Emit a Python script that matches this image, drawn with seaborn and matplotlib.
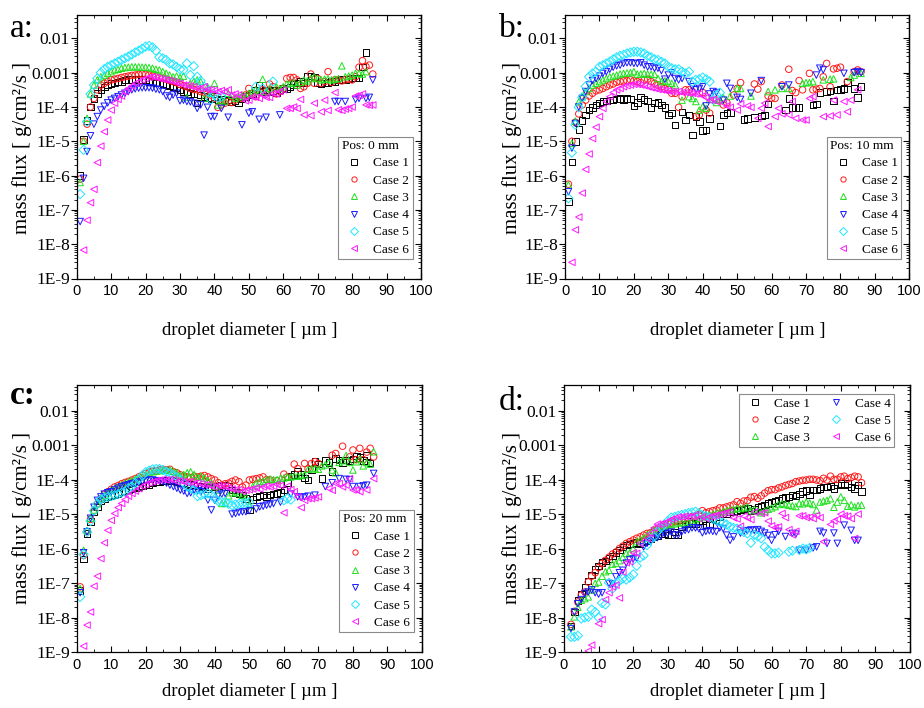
import numpy as np
import pandas as pd
import matplotlib
matplotlib.use("Agg")
import matplotlib.pyplot as plt
from matplotlib.lines import Line2D
from matplotlib.ticker import (LogLocator, FixedLocator, MultipleLocator,
                               NullFormatter, FixedFormatter)
import seaborn as sns

N = None
cases = ["Case 1", "Case 2", "Case 3", "Case 4", "Case 5", "Case 6"]
colors = ["#000000", "#ff1a1a", "#1ee01e", "#1a1aff", "#1ee6ff", "#ff1aff"]
markers = ["s", "o", "^", "v", "D", "<"]
pos_titles = ["Pos: 0 mm", "Pos: 10 mm", "Pos: 20 mm", None]
letters = ["a:", "b:", "c:", "d:"]
ytick_labels = ["1E-9", "1E-8", "1E-7", "1E-6", "1E-5", "1E-4", "0.001", "0.01"]
xtick_labels = ["0", "10", "20", "30", "40", "50", "60", "70", "80", "90", "100"]

# log10(mass flux [g/cm^2/s]) at droplet diameter 1, 2, 3, ... um  (None = no point)
# ---- panel a: Pos 0 mm
a_case1 = [-6.0, -4.95, -4.4, -4.0, -3.75, -3.6, -3.5, -3.42, -3.36, -3.32,
           -3.3, -3.27, -3.25, -3.22, -3.2, -3.2, -3.18, -3.2, -3.2, -3.22,
           -3.25, -3.27, -3.3, -3.3, -3.32, -3.35, -3.38, -3.42, -3.45, -3.5,
           -3.55, -3.56, -3.6, -3.62, -3.88, -3.65, -3.7, -3.72, -3.75, -3.7,
           -3.8, -3.78, -3.82, -3.8, -3.85, -3.82, -3.88, -3.75, -3.7, -3.65,
           -3.6, -3.5, -3.38, -3.55, -3.5, -3.55, -3.52, -3.58, -3.5, -3.45,
           -3.48, -3.42, -3.35, -3.3, -3.25, -3.3, -3.09, -3.1, -3.12, -3.3,
           -3.31, -3.3, -3.28, -3.26, -3.25, -3.22, -3.2, -3.2, -3.18, -3.16,
           -3.15, -3.15, -2.83, -2.41]
a_case2 = [-6.1, -5.0, -4.5, -4.0, -3.75, -3.5, -3.36, -3.31, -3.26, -3.21,
           -3.19, -3.17, -3.14, -3.12, -3.1, -3.08, -3.07, -3.05, -3.04, -3.05,
           -3.07, -3.1, -3.12, -3.14, -3.17, -3.19, -3.23, -3.26, -3.29, -3.34,
           -3.38, -3.41, -3.46, -3.49, -3.5, -3.55, -3.58, -3.62, -3.65, -3.75,
           -4.01, -3.94, -3.89, -3.84, -3.87, -3.8, N, -3.75, -3.65, -3.46,
           -3.6, -3.7, -3.55, -3.5, -3.55, -3.33, -3.41, -3.62, -3.55, -3.46,
           -3.17, -3.14, -3.14, -3.21, -3.46, -3.41, -3.31, -3.04, -3.31, -3.17,
           -3.31, -3.26, -2.97, -3.28, -3.21, -3.21, -3.24, -3.21, -3.19, -3.21,
           -3.12, -2.84, -2.65, -2.82, -2.78, -3.04]
a_case3 = [-6.2, -5.0, -4.33, -3.62, -3.36, -3.21, -3.12, -3.07, -3.02, -2.97,
           -2.92, -2.9, -2.87, -2.85, -2.84, -2.83, -2.83, -2.83, -2.84, -2.84,
           -2.85, -2.87, -2.9, -2.92, -2.97, -3.02, -3.07, -3.12, -3.1, -3.14,
           -3.1, -3.72, -3.31, -3.26, -3.21, -3.26, -3.75, -3.41, -3.6, -3.31,
           -3.94, -3.8, -3.84, -3.6, -3.65, -3.75, -3.7, -3.65, -3.68, -3.6,
           -3.55, -3.5, -3.55, -3.19, -3.55, -3.46, N, -3.41, -3.46, -3.41,
           -3.33, -3.31, -3.29, -3.36, -3.28, -3.21, -3.24, -3.17, -3.12, -3.17,
           -3.21, -3.19, -3.18, -3.21, -3.19, -3.17, -2.8, -3.12, -3.1, -3.07,
           -3.02, -3.02, -3.04, -2.97]
a_case4 = [-7.34, -6.08, -5.3, -4.84, -4.5, -4.28, -4.09, -3.98, -3.88, -3.8,
           -3.75, -3.7, -3.65, -3.6, -3.55, -3.5, -3.47, -3.45, -3.44, -3.44,
           -3.44, -3.45, -3.48, -3.5, -3.55, -3.68, -3.72, -3.65, -3.6, -3.82,
           -3.8, -3.84, -3.85, -3.89, -4.04, -3.94, -4.82, -4.01, -4.28, -4.28,
           N, -4.04, N, -4.3, N, N, N, -4.52, N, -4.18,
           -4.14, N, -4.36, N, -4.3, N, N, N, -4.23, N,
           N, N, N, N, N, N, N, N, N, N,
           N, N, N, N, -3.84, -3.84, N, -3.84, N, N,
           -3.78, -3.75, N, -3.75, -3.72, -3.21]
a_case5 = [-6.54, -5.25, -4.43, -3.62, -3.36, -3.17, -3.0, -2.9, -2.83, -2.78,
           -2.73, -2.68, -2.63, -2.58, -2.53, -2.47, -2.41, -2.36, -2.3, -2.24,
           -2.22, -2.26, -2.36, -2.55, -2.58, -2.63, -2.73, -2.76, -2.83, -2.9,
           -2.92, -2.73, -3.07, -2.81, -3.12, -3.24, -3.41, -3.55, -3.78, -3.65,
           -3.72, -3.7, N, N, N, N, N, N, N, N,
           N, -3.41, N, -3.46, N, N, -3.26]
a_case6 = [N, -8.17, -7.3, -6.79, -6.4, -5.62, -5.14, -4.72, -4.38, -4.09,
           -3.89, -3.78, -3.68, -3.55, -3.46, -3.39, -3.31, -3.26, -3.21, -3.17,
           -3.14, -3.12, -3.14, -3.17, -3.19, -3.21, -3.23, -3.26, -3.29, -3.31,
           -3.36, -3.36, -3.39, -3.41, -3.46, -3.46, -3.41, -3.5, -3.5, -3.52,
           -3.55, -3.52, -3.55, -3.5, -3.65, -3.62, -3.65, -3.7, -3.82, -3.8,
           -3.7, -3.72, -3.75, -3.65, -3.72, -3.72, -3.6, -3.62, -3.55, -3.5,
           -4.04, -4.04, -4.0, -4.04, -3.78, -4.23, N, -4.25, -3.89, N,
           -4.14, -3.8, -4.1, N, -3.58, -4.08, -4.1, -4.06, -4.04, -4.0,
           -3.68, -3.66, -3.62, -3.94, -3.95, -3.94]
# ---- panel b: Pos 10 mm
b_case1 = [-6.76, -5.61, -5.01, -4.65, -4.4, -4.23, -4.09, -4.02, -3.94, -3.89,
           -3.84, -3.82, -3.8, -3.8, -3.77, -3.75, -3.78, -3.75, -3.77, -3.97,
           -3.87, -3.73, -3.78, -3.83, -4.01, -3.89, -3.87, -3.94, -4.01, -4.23,
           -4.18, -4.52, N, -4.14, -4.38, -4.23, -4.82, -4.28, -4.43, -4.69,
           -4.67, -4.33, N, N, -4.55, -4.23, -4.18, -4.16, N, N,
           N, -4.36, -4.34, N, -4.3, N, -4.26, -4.23, -3.91, N,
           N, N, N, -4.09, -3.75, -4.01, -4.01, -4.02, N, N,
           N, -3.94, -3.91, -3.58, N, -3.55, -3.53, -3.82, -3.5, -3.49,
           -3.46, -3.29, N, -3.46, -3.72, -3.41]
b_case2 = [-6.25, -5.0, -4.45, -4.2, -3.94, -3.8, -3.68, -3.6, -3.53, -3.5,
           -3.46, -3.41, -3.36, -3.33, -3.28, -3.26, -3.24, -3.23, -3.21, -3.24,
           -3.26, -3.29, -3.21, -3.19, -3.26, -3.31, -3.36, -3.41, -3.46, -3.49,
           -3.6, -3.6, -4.01, -3.7, -3.5, -3.5, -3.55, -4.28, -4.23, -3.58,
           -4.09, -4.18, N, -3.8, N, -3.94, -3.87, N, -3.65, -3.46,
           -3.29, N, N, N, -3.33, -3.48, -3.26, N, -3.68, -3.74,
           -3.75, N, -3.36, N, -2.9, -3.52, -3.58, -3.23, -3.5, N,
           -3.02, -3.5, -3.48, -3.46, -3.12, -2.73, -3.41, -2.89, -2.87, -2.84,
           N, -3.26, N, -2.97, -2.92, -2.97]
b_case3 = [-6.27, -5.06, -4.41, -3.85, -3.7, -3.55, -3.46, -3.36, -3.31, -3.26,
           -3.21, -3.17, -3.12, -3.1, -3.07, -3.04, -3.02, -3.01, -3.0, -2.97,
           -3.04, -3.04, -3.02, -3.04, -3.05, -3.05, -3.17, -3.26, -3.24, -3.26,
           -3.31, -3.36, N, -3.8, N, -3.7, -3.75, -3.84, -4.09, -3.99,
           -4.04, -3.78, N, -3.87, -3.8, -3.73, N, -3.68, N, -3.46,
           -3.46, N, N, -3.68, N, N, N, N, -3.55, N,
           -3.5, N, -3.46, N, -3.46, N, N, N, -3.31, -3.29,
           -3.29, -3.26, N, N, -3.21, N, -3.19, -3.18, N, N,
           N, N, -3.14, -3.07, N, -3.02]
b_case4 = [-6.47, -5.2, -4.48, -4.0, -3.75, -3.55, -3.36, -3.23, -3.17, -3.1,
           -3.02, -2.97, -2.9, -2.84, -2.8, -2.78, -2.73, -2.71, -2.71, -2.73,
           -2.73, -2.71, -2.78, -2.83, -2.83, -2.87, -2.87, -2.94, -3.19, -3.07,
           -3.0, -3.17, -3.21, -3.17, N, -3.26, -3.41, -3.5, -3.46, -3.41,
           -3.97, -3.62, -3.55, -3.58, N, -3.8, -3.31, -3.46, N, -3.72,
           -3.78, N, N, -3.6, N, N, -3.23, N, N, N,
           N, N, -3.41, N, -3.36, N, N, N, N, N,
           N, N, -3.07, -2.87, -2.92, N, N, N, N, N,
           -3.02, N, N, -3.0, -2.97, -3.0]
b_case5 = [-6.66, -5.33, -4.52, -4.01, -3.72, -3.4, -3.12, -3.02, -2.97, -2.83,
           -2.78, -2.73, -2.68, -2.61, -2.55, -2.51, -2.48, -2.44, -2.41, -2.39,
           -2.39, -2.41, -2.44, -2.51, -2.55, -2.61, -2.63, -2.68, -2.73, -2.83,
           -2.87, -2.9, -2.9, -2.97, -3.02, -2.97, -3.26, -3.21, -3.19, -3.14,
           -3.19, -3.26, -3.78, -3.65, -3.58]
b_case6 = [N, -8.53, -7.58, -7.21, -6.51, -5.82, -5.37, -4.92, -4.59, -4.28,
           -4.04, -3.84, -3.7, -3.58, -3.5, -3.46, -3.41, -3.38, -3.36, -3.34,
           -3.34, -3.36, -3.38, -3.41, -3.44, -3.46, -3.49, -3.5, -3.52, -3.53,
           -3.55, -3.55, -3.55, -3.58, -3.58, -3.6, -3.6, -3.62, -3.62, -3.68,
           -3.72, -3.8, -3.78, -3.84, N, -3.89, -3.97, -4.01, N, -4.09,
           -3.91, N, -3.97, -4.01, N, -4.33, -4.04, -3.89, -4.57, N,
           -4.28, -4.04, -4.2, N, -4.23, -3.84, -4.33, N, -4.38, -4.38,
           -3.75, -3.7, N, N, -4.28, N, -4.26, -3.8, -4.23, N,
           -3.84, -4.14, -3.8, N, -3.5]
# ---- panel c: Pos 20 mm
c_case1 = [-7.21, -6.3, -5.56, -5.22, -4.93, -4.79, -4.62, -4.55, -4.5, -4.48,
           -4.45, -4.4, -4.35, -4.33, -4.3, -4.27, -4.24, -4.21, -4.18, -4.16,
           -4.16, -4.1, -4.06, -4.05, -4.03, -4.02, -4.01, -4.02, -4.05, -4.08,
           -4.1, -4.12, -4.14, -4.16, -4.18, -4.2, -4.22, -4.25, -4.22, -4.2,
           -4.18, -4.16, -4.16, -4.2, -4.3, -4.38, -4.4, -4.45, -4.55, -4.88,
           -4.58, -4.5, -4.48, -4.45, -4.5, -4.45, -4.42, -4.4, -4.38, -4.3,
           -4.1, -3.9, -3.85, -3.77, -3.85, -3.95, -4.01, -3.7, -3.48, -3.55,
           -3.97, -3.45, -3.5, -3.77, -3.38, -3.43, -3.5, -3.43, -3.45, -3.4,
           -3.32, -3.35, -3.45, -3.3, -3.51]
c_case2 = [-7.11, -6.2, -5.5, -5.15, -4.9, -4.7, -4.55, -4.42, -4.35, -4.28,
           -4.21, -4.17, -4.12, -4.08, -4.05, -4.01, -3.97, -3.92, -3.87, -3.82,
           -3.78, -3.75, -3.74, -3.72, -3.7, -3.72, -3.7, -3.77, -3.8, -3.86,
           -3.9, -3.92, -3.94, -3.9, -3.92, -3.9, -3.88, -3.92, -3.97, -4.01,
           -4.09, -4.16, -4.12, -4.1, -4.05, -4.01, -4.06, -4.21, -4.16, -4.01,
           -3.99, -3.97, -3.95, -3.92, -4.0, -4.01, N, -4.03, N, -3.84,
           -3.92, N, -3.55, -3.68, N, -3.53, -3.68, -3.53, -3.48, -3.53,
           N, N, N, -3.29, -3.24, N, -3.03, N, -3.34, -3.14,
           -3.42, -3.09, -3.42, -3.2, -3.09, -3.34]
c_case3 = [-7.16, -6.05, -5.47, -5.12, -4.88, -4.7, -4.55, -4.45, -4.38, -4.3,
           -4.25, -4.2, -4.15, -4.1, -4.06, -4.02, -3.98, -3.94, -3.9, -3.85,
           -3.81, -3.77, -3.75, -3.74, -3.72, -3.72, -3.71, -3.76, -3.8, -3.88,
           -3.85, -3.8, -3.77, -3.85, -3.92, -3.9, -3.95, -4.02, -4.1, -4.2,
           -4.3, -4.69, -4.69, -4.47, -4.38, -4.35, -4.4, -4.45, -4.5, -4.74,
           -4.2, -4.1, -4.06, -4.05, -4.0, -3.98, -4.0, -4.0, -3.96, -3.95,
           -3.92, -3.92, -3.9, -3.9, -3.88, -3.86, -3.7, -3.68, -3.68, -3.7,
           -3.6, -3.57, -3.5, -3.72, -3.8, -3.5, -3.45, -3.3, -3.5, -3.72,
           -3.48, -3.4, -3.6, -3.5, -3.55, -3.19]
c_case4 = [-7.28, -6.12, -5.51, -5.12, -4.8, -4.6, -4.5, -4.42, -4.38, -4.35,
           -4.3, -4.25, -4.21, -4.18, -4.15, -4.12, -4.1, -4.07, -4.05, -4.03,
           -4.01, -4.01, -4.03, -4.05, -4.05, -4.1, -4.16, -4.2, -4.25, -4.3,
           -4.33, -4.4, -4.38, -4.3, -4.32, -4.35, -4.3, -4.59, -4.88, -4.6,
           -4.45, -4.42, -4.4, N, -5.0, -4.98, -4.95, -4.93, -4.93, -4.9,
           N, -4.85, -4.79, -4.77, -4.74, -4.72, -4.69, N, -4.65, N,
           N, -4.42, N, -4.5, -4.52, -4.5, -4.48, N, -4.45, N,
           N, -4.2, N, -4.09, N, -3.97, N, -3.99, -4.0, -4.2,
           N, -4.2, -4.18, -4.16, N, -3.82]
c_case5 = [-7.4, -6.17, -5.52, -5.2, -4.9, -4.7, -4.57, -4.53, -4.5, -4.48,
           -4.45, -4.42, -4.38, -4.35, -4.25, -4.2, -4.1, -3.98, -3.88, -3.78,
           -3.74, -3.7, -3.69, -3.69, -3.72, -3.77, -3.82, -3.87, -3.93, -4.0,
           -4.1, -4.2, -4.25, -4.3, -4.48, -4.45, -4.42, -4.4, -4.45, -4.55,
           -4.62, -4.64, -4.65, -4.7, -4.74, -4.72, -4.7, -4.69, -4.68, -4.66,
           N, N, N, N, N, N, N, N, N, -4.6,
           -4.55, -4.58]
c_case6 = [N, -8.83, -8.22, -7.84, -7.09, -6.8, -6.29, -5.83, -5.47, -5.18,
           -4.98, -4.81, -4.69, -4.58, -4.48, -4.4, -4.33, -4.26, -4.19, -4.14,
           -4.09, -4.06, -4.03, -4.01, -3.99, -4.01, -3.99, -4.01, -4.06, -4.03,
           -4.06, -4.09, -4.06, -4.11, -4.09, -4.12, -4.15, -4.15, -4.19, -4.21,
           -4.17, -4.19, -4.19, -4.24, -4.27, -4.29, -4.29, -4.34, -4.31, -4.29,
           -4.27, -4.24, -4.27, -4.21, -4.19, -4.21, -4.19, -4.14, -4.17, -4.96,
           -4.19, -4.29, -4.35, -4.5, -4.81, -4.6, -4.55, -4.55, -4.53, -4.5,
           N, N, -4.26, -4.31, -4.11, -4.11, -4.21, -4.16, -3.97, -4.3,
           -4.3, -4.35, N, -4.3, N, -3.97]
# ---- panel d
d_case1 = [N, -8.25, -7.84, -7.5, -7.32, -7.11, -6.94, -6.77, -6.61, -6.51,
           -6.41, -6.36, -6.29, -6.22, -6.12, -6.04, -5.95, -5.9, -5.87, -5.85,
           -5.83, -5.85, -5.8, -5.77, -5.7, -5.67, -5.62, -5.58, -5.56, -5.61,
           -5.59, -5.52, -5.61, -5.36, -5.29, -5.22, -5.27, -5.29, -5.2, -5.18,
           -5.32, -5.28, -5.13, -5.16, -5.08, -5.0, -4.98, -4.94, -4.92, -4.89,
           -4.88, -4.85, -4.82, -4.91, -4.86, -4.79, -4.76, -4.74, -4.69, -4.66,
           -4.62, -4.59, -4.55, -4.52, -4.5, -4.45, -4.48, -4.42, -4.35, -4.32,
           -4.45, -4.3, -4.3, -4.25, -4.22, -4.22, -4.18, -4.25, -4.15, -4.11,
           -4.15, -4.11, -4.21, -4.26, -4.16, -4.35]
d_case2 = [N, -8.2, -7.82, -7.55, -7.35, -7.26, -6.97, -6.8, -6.7, -6.55,
           -6.43, -6.34, -6.25, -6.16, -6.1, -6.0, -5.93, -5.85, -5.8, -5.75,
           -5.7, -5.66, -5.61, -5.56, -5.54, -5.48, -5.44, -5.38, -5.34, -5.28,
           -5.26, -5.22, -5.21, -5.18, -5.14, -5.11, -5.07, -5.05, -5.01, -4.9,
           -4.96, -4.93, -4.9, -4.88, -4.82, -4.82, -4.79, -4.76, -4.73, -4.64,
           -4.69, -4.62, -4.61, -4.51, -4.49, -4.54, -4.47, -4.39, -4.32, -4.29,
           -4.29, -4.24, -4.21, -4.17, -4.14, -4.11, -4.06, -4.04, -4.02, -4.01,
           -3.99, -3.99, -4.01, -4.03, -3.96, -4.01, -3.9, -3.99, -3.99, -3.92,
           -3.9, -3.97, -3.94, -3.9, -3.92, -4.09]
d_case3 = [N, -8.27, -7.98, -7.7, -7.5, -7.45, -7.4, -7.2, -7.01, -6.97,
           -6.8, -6.67, -6.63, -6.45, -6.43, -6.35, -6.25, -6.14, -6.12, -6.0,
           -5.8, -5.75, -5.7, -5.6, -5.55, -5.47, -5.45, -5.37, -5.35, -5.32,
           -5.3, -5.28, -5.25, -5.25, -5.27, -5.24, -5.2, -5.16, -5.12, -5.1,
           -5.07, -5.03, -5.0, -4.98, -4.96, -4.93, -4.9, -4.88, -4.86, -4.83,
           -4.84, -4.82, -4.79, -4.9, -4.86, -4.91, -4.96, -4.91, -4.86, -4.82,
           -4.78, -4.72, -4.69, -4.72, -4.74, -4.76, -4.78, -4.69, -4.7, -4.65,
           -4.68, -4.72, -4.88, -4.65, -4.62, -4.6, -4.55, -4.8, -4.65, -4.5,
           -4.6, -4.77, -4.73, -4.79, -4.75, -4.74]
d_case4 = [N, -8.32, -7.84, -7.6, -7.48, -7.3, -7.26, -7.2, -7.28, -7.32,
           -7.28, N, -7.01, -7.03, -6.82, -6.7, -6.63, -6.42, -6.33, -6.3,
           -6.28, N, -5.95, -5.85, -5.8, -5.72, -5.68, -5.63, -5.56, -5.56,
           -5.52, -5.61, -5.61, -5.52, -5.47, -5.45, -5.4, -5.4, -5.43, -5.54,
           -5.5, -5.48, -5.5, -5.51, -5.4, -5.42, -5.61, -5.76, -5.66, N,
           -5.55, -5.5, -5.48, -5.46, -5.47, -5.45, -5.5, -5.55, -5.62, -5.76,
           -5.6, -5.5, N, -5.65, N, -5.56, -5.58, -6.05, N, -6.05,
           N, -5.98, -5.95, -5.5, -5.55, -5.85, N, -5.55, -5.85, N,
           -5.32, N, -5.47, -5.76, -5.76]
d_case5 = [N, -8.56, -8.56, -8.53, -8.03, -8.0, -7.98, -7.77, -7.84, -8.0,
           -7.58, -7.62, -6.99, -7.16, -7.01, -6.94, -6.87, -6.9, -6.84, -6.75,
           -6.5, -6.26, -6.2, -5.9, -5.75, -5.66, -5.5, -5.4, -5.3, -5.2,
           -5.1, -5.08, -5.05, -5.02, -5.0, -4.97, -4.95, -4.93, -4.97, -5.03,
           -5.06, -5.1, -5.14, -5.18, -5.22, -5.25, -5.3, -5.37, -5.4, -5.42,
           -5.45, -5.52, -5.56, -5.83, -5.6, -5.65, -5.7, -5.95, -6.05, -6.14,
           -6.14, -6.12, N, N, -6.09, -6.06, N, -6.04, -6.0, -6.02,
           -5.98]
d_case6 = [N, N, N, N, N, N, -8.97, -8.8, N, -8.18,
           -8.06, -7.48, -7.28, -7.11, -7.06, -7.43, -6.68, -6.41, -6.38, -6.12,
           -6.14, -5.85, N, -5.71, -5.56, -5.4, -5.29, -5.29, -5.25, -5.22,
           -5.15, -5.12, -5.08, -5.08, -5.06, -5.08, -5.06, -5.03, -5.13, -5.08,
           -5.13, -5.08, -5.06, -5.03, -5.01, -4.98, -4.96, -4.94, -5.11, -5.14,
           -5.35, -5.06, -5.11, -5.16, -4.94, N, -4.98, -4.96, -5.2, -5.34,
           -5.39, -5.37, -4.98, -5.1, -5.45, -5.6, -5.5, -5.05, -5.05, -5.1,
           -5.09, -5.13, -5.04, -5.1, -5.8, N, -5.3, -5.2, -5.15, -5.0,
           -5.05, -5.06, -5.13, -5.71, -5.0]

panels = [
    [a_case1, a_case2, a_case3, a_case4, a_case5, a_case6],
    [b_case1, b_case2, b_case3, b_case4, b_case5, b_case6],
    [c_case1, c_case2, c_case3, c_case4, c_case5, c_case6],
    [d_case1, d_case2, d_case3, d_case4, d_case5, d_case6],
]

SERIF = "Liberation Serif"
SANS = "Liberation Sans"
W, H = 924, 708

fig = plt.figure(figsize=(W / 100, H / 100), dpi=100)

# axes boxes in pixels: left, top, right, bottom
boxes = [(76.7, 14.7, 421.0, 278.5), (565.0, 14.7, 909.3, 278.5),
         (76.7, 385.0, 422.0, 652.0), (564.0, 385.0, 910.0, 652.0)]
ytops = [10 ** -1.31, 10 ** -1.31, 10 ** -1.254, 10 ** -1.254]
xlabel_pos = [(250, 331), (738, 331), (250, 692), (738, 692)]
ylabel_pos = [(22, 148), (512, 148), (22, 518), (512, 518)]
letter_pos = [(10, 37), (499, 37), (10, 404), (499, 410)]


def make_frame(series):
    rows = []
    for case, vals in zip(cases, series):
        for i, v in enumerate(vals):
            if v is not None:
                rows.append((i + 1, 10.0 ** v, case))
    return pd.DataFrame(rows, columns=["diameter", "flux", "case"])


palette = dict(zip(cases, colors))
marker_map = dict(zip(cases, markers))
major_y = 10.0 ** np.arange(-9, -1)

for k, (series, box) in enumerate(zip(panels, boxes)):
    l, t, r, b = box
    ax = fig.add_axes([l / W, 1 - b / H, (r - l) / W, (b - t) / H])
    df = make_frame(series)
    sns.scatterplot(data=df, x="diameter", y="flux", hue="case", style="case",
                    hue_order=cases, style_order=cases, palette=palette,
                    markers=marker_map, s=22, legend=False, ax=ax)
    coll = ax.collections[-1]
    fc = coll.get_facecolors()
    coll.set_edgecolors(fc)
    coll.set_facecolors("none")
    coll.set_linewidths(0.7)

    ax.set_yscale("log")
    ax.set_xlim(0, 100)
    ax.set_ylim(1e-9, ytops[k])
    ax.set_xlabel("")
    ax.set_ylabel("")
    ax.xaxis.set_major_locator(FixedLocator(np.arange(0, 101, 10)))
    ax.xaxis.set_major_formatter(FixedFormatter(xtick_labels))
    ax.xaxis.set_minor_locator(MultipleLocator(5))
    ax.yaxis.set_major_locator(FixedLocator(major_y))
    ax.yaxis.set_major_formatter(FixedFormatter(ytick_labels))
    ax.yaxis.set_minor_locator(LogLocator(base=10, subs=np.arange(2, 10), numticks=40))
    ax.yaxis.set_minor_formatter(NullFormatter())
    ax.tick_params(axis="x", which="both", direction="in", top=True,
                   labelsize=10.5, labelfontfamily=SANS, pad=4)
    ax.tick_params(axis="y", which="both", direction="out", right=False,
                   labelsize=12.5, labelfontfamily=SERIF, pad=1)
    ax.tick_params(which="major", length=4, width=0.8)
    ax.tick_params(which="minor", length=2.2, width=0.6)
    for sp in ax.spines.values():
        sp.set_linewidth(0.9)

    sec = ax.secondary_yaxis("right", functions=(lambda v: v, lambda v: v))
    sec.yaxis.set_major_locator(FixedLocator(major_y))
    sec.yaxis.set_minor_locator(LogLocator(base=10, subs=np.arange(2, 10), numticks=40))
    sec.yaxis.set_minor_formatter(NullFormatter())
    sec.tick_params(which="both", direction="in", labelright=False)
    sec.tick_params(which="major", length=4, width=0.8)
    sec.tick_params(which="minor", length=2.2, width=0.6)
    sec.spines["right"].set_linewidth(0.9)

    handles = [Line2D([], [], ls="none", marker=m, mfc="none", mec=c, mew=0.7, ms=3.8)
               for m, c in zip(markers, colors)]
    prop = {"family": SERIF, "size": 9.5}
    common = dict(borderaxespad=0, frameon=True, fancybox=False, edgecolor="#8a8a8a",
                  framealpha=1, prop=prop, handlelength=1.9, handletextpad=0.5,
                  labelspacing=0.38, borderpad=0.25)
    if pos_titles[k] is not None:
        leg = ax.legend(handles, cases, title=pos_titles[k], loc="lower right",
                        bbox_to_anchor=(0.976, 0.074), title_fontproperties=prop,
                        alignment="left", **common)
    else:
        leg = ax.legend(handles, cases, ncol=2, loc="upper right",
                        bbox_to_anchor=(0.954, 0.966), columnspacing=1.0, **common)
    leg.get_frame().set_linewidth(0.8)

    fig.text(xlabel_pos[k][0] / W, 1 - xlabel_pos[k][1] / H, "droplet diameter [ µm ]",
             ha="center", va="center", fontsize=13.5, family=SERIF)
    fig.text(ylabel_pos[k][0] / W, 1 - ylabel_pos[k][1] / H, "mass flux [ g/cm²/s ]",
             ha="center", va="center", rotation=90, fontsize=15, family=SERIF)
    fig.text(letter_pos[k][0] / W, 1 - letter_pos[k][1] / H, letters[k],
             ha="left", va="baseline", fontsize=24, family=SERIF,
             fontweight="bold" if k == 2 else "normal")

fig.savefig("out.png", dpi=100)
